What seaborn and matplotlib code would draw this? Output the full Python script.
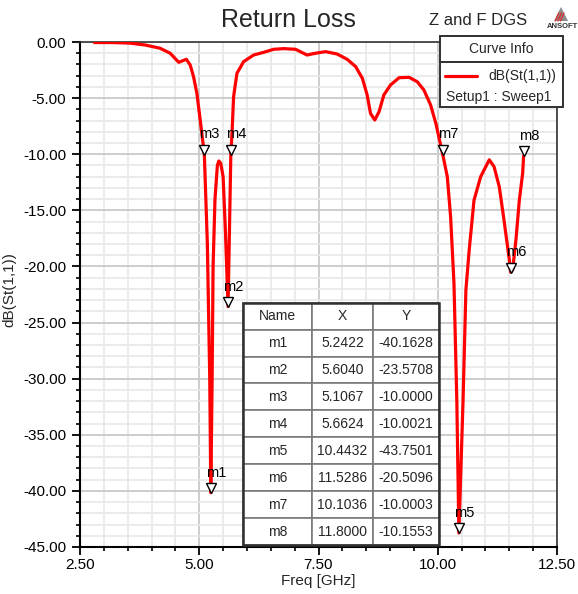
import numpy as np
import pandas as pd
import matplotlib
matplotlib.use("Agg")
import matplotlib.pyplot as plt
import matplotlib.transforms as mtransforms
from matplotlib.patches import Rectangle, Polygon
from matplotlib.ticker import MultipleLocator, FormatStrFormatter
import seaborn as sns

# S11 sweep (GHz, dB)
freq = [2.80, 3.20, 3.55, 3.87, 4.18, 4.39, 4.57, 4.73, 4.81, 4.88, 4.95, 5.02,
        5.1067, 5.17, 5.22, 5.2422, 5.27, 5.29, 5.33, 5.38, 5.41, 5.45, 5.50,
        5.55, 5.604, 5.6624, 5.69, 5.72, 5.79, 5.93, 6.14, 6.35, 6.56, 6.77,
        7.02, 7.16, 7.26, 7.44, 7.65, 7.89, 8.10, 8.28, 8.42, 8.52, 8.59, 8.68,
        8.77, 8.87, 9.01, 9.19, 9.40, 9.57, 9.71, 9.85, 9.96, 10.1036, 10.20,
        10.27, 10.34, 10.40, 10.4432, 10.53, 10.59, 10.66, 10.76, 10.90, 11.08,
        11.18, 11.29, 11.39, 11.50, 11.5286, 11.57, 11.64, 11.71, 11.78, 11.80]
s11 = [-0.05, -0.05, -0.10, -0.27, -0.56, -1.00, -1.81, -1.54, -2.05, -3.09, -4.57, -6.95,
       -10.00, -18.0, -30.0, -40.1628, -30.0, -20.0, -14.0, -11.0, -10.6, -10.8, -12.0,
       -17.0, -23.5708, -10.0021, -7.84, -4.87, -2.79, -1.75, -1.16, -0.92, -0.65, -0.59,
       -0.65, -0.95, -1.16, -1.00, -0.86, -1.07, -1.54, -2.20, -3.24, -4.72, -6.36, -6.95,
       -6.21, -4.72, -3.83, -3.18, -3.15, -3.54, -4.28, -5.61, -7.25, -10.0003, -12.0,
       -15.6, -21.5, -32.0, -43.7501, -32.0, -22.1, -18.5, -14.1, -12.0, -10.5,
       -11.1, -12.9, -15.9, -19.4, -20.5096, -20.3, -17.6, -14.1, -11.7, -10.1553]

# Markers
marker_names = ["m1", "m2", "m3", "m4", "m5", "m6", "m7", "m8"]
marker_x = [5.2422, 5.6040, 5.1067, 5.6624, 10.4432, 11.5286, 10.1036, 11.8000]
marker_y = [-40.1628, -23.5708, -10.0000, -10.0021, -43.7501, -20.5096, -10.0003, -10.1553]

W, H = 578, 594
sns.set_style("white")
plt.rcParams["font.family"] = ["Liberation Sans", "DejaVu Sans"]

fig = plt.figure(figsize=(W / 100, H / 100), dpi=100)


def fx(px):
    return px / W


def fy(py):
    return 1 - py / H


ax = fig.add_axes([fx(80), fy(547), fx(557) - fx(80), fy(42) - fy(547)])

df = pd.DataFrame({"Freq": freq, "S11": s11})
sns.lineplot(data=df, x="Freq", y="S11", ax=ax, color="#ff0000", lw=2.3,
             estimator=None, sort=False, zorder=3)

ax.set_xlim(2.5, 12.5)
ax.set_ylim(-45, 0)
ax.xaxis.set_major_locator(MultipleLocator(2.5))
ax.xaxis.set_minor_locator(MultipleLocator(0.5))
ax.yaxis.set_major_locator(MultipleLocator(5))
ax.yaxis.set_minor_locator(MultipleLocator(1))
ax.xaxis.set_major_formatter(FormatStrFormatter("%.2f"))
ax.yaxis.set_major_formatter(FormatStrFormatter("%.2f"))
ax.grid(True, which="major", color="#c9c9c9", lw=1.3, zorder=0)
ax.grid(True, which="minor", color="#e8e8e8", lw=1.2, zorder=0)
ax.set_axisbelow(True)

ax.tick_params(axis="both", which="major", direction="out", length=6, width=1.3,
               color="black", labelsize=11, labelcolor="black")
ax.tick_params(axis="both", which="minor", direction="out", length=3, width=1.2,
               color="black")
ax.tick_params(axis="y", which="major", pad=4)
ax.tick_params(axis="x", which="major", pad=2)
ax.tick_params(left=True, bottom=True, which="both")

for side in ["left", "bottom"]:
    ax.spines[side].set_color("black")
    ax.spines[side].set_linewidth(1.5)
for side in ["top", "right"]:
    ax.spines[side].set_color("#333333")
    ax.spines[side].set_linewidth(1.2)

ax.set_xlabel("Freq [GHz]", fontsize=11, labelpad=1)
ax.set_ylabel("dB(St(1,1))", fontsize=11)
ax.yaxis.set_label_coords((16 - 80) / (557 - 80), (547 - 290) / (547 - 42))

# marker triangles (tip on the curve) and their names
tri_tf = mtransforms.offset_copy(ax.transData, fig=fig, x=0, y=4.5, units="dots")
ax.plot(marker_x, marker_y, linestyle="none", marker="v", markersize=6.8,
        markerfacecolor="white", markeredgecolor="black", markeredgewidth=1.0,
        transform=tri_tf, zorder=4)
for name, mx, my in zip(marker_names, marker_x, marker_y):
    ax.annotate(name, xy=(mx, my), xytext=(-5, 16), textcoords="offset pixels",
                ha="left", va="baseline", fontsize=10.5, color="black", zorder=4)

# marker table
cell_text = [[n, f"{x:.4f}", f"{y:.4f}"]
             for n, x, y in zip(marker_names, marker_x, marker_y)]
tx0, tx1 = (243 - 80) / 477, (439 - 80) / 477
ty0, ty1 = (547 - 545) / 505, (547 - 302.7) / 505
tbl = ax.table(cellText=cell_text, colLabels=["Name", "X", "Y"],
               cellLoc="center", bbox=[tx0, ty0, tx1 - tx0, ty1 - ty0],
               colWidths=[69, 61, 66])
tbl.auto_set_font_size(False)
tbl.set_fontsize(10)
tbl.set_zorder(6)
for (r, c), cell in tbl.get_celld().items():
    cell.set_edgecolor("#7a7a7a")
    cell.set_linewidth(1.2)
    cell.set_facecolor("white")
ax.add_patch(Rectangle((tx0, ty0), tx1 - tx0, ty1 - ty0, transform=ax.transAxes,
                       fill=False, edgecolor="#303030", lw=1.8, zorder=7,
                       clip_on=False))


# curve info box
def fig_rect(x0, y0, x1, y1, **kw):
    fig.patches.append(Rectangle((fx(x0), fy(y1)), fx(x1) - fx(x0), fy(y0) - fy(y1),
                                 transform=fig.transFigure, **kw))


fig_rect(440, 36, 563, 62, facecolor="white", edgecolor="#303030", lw=1.4, zorder=8)
fig_rect(440, 62, 563, 107, facecolor="white", edgecolor="#303030", lw=1.4, zorder=8)
fig.text(fx(501.5), fy(49), "Curve Info", fontsize=10, ha="center", va="center", zorder=9)
fig.lines.append(plt.Line2D([fx(445), fx(477)], [fy(76), fy(76)], color="#ff0000",
                            lw=2.3, transform=fig.transFigure, zorder=9))
fig.text(fx(556), fy(76), "dB(St(1,1))", fontsize=10, ha="right", va="center", zorder=9)
fig.text(fx(446), fy(97), "Setup1 : Sweep1", fontsize=10, ha="left", va="center", zorder=9)

# titles
fig.text(fx(288.5), fy(27), "Return Loss", fontsize=18, ha="center", va="baseline")
fig.text(fx(429), fy(25), "Z and F DGS", fontsize=12, ha="left", va="baseline")

# small logo
fig.patches.append(Polygon([(fx(554), fy(21)), (fx(561), fy(7)), (fx(568), fy(21))],
                           closed=True, transform=fig.transFigure,
                           facecolor="#8c8c8c", edgecolor="none"))
for k in range(3):
    xa = 557.5 + k * 2.6
    fig.lines.append(plt.Line2D([fx(xa - 2.2), fx(xa + 1.2)], [fy(21), fy(13)],
                                color="#e0282e", lw=0.9, transform=fig.transFigure))
fig.text(fx(562), fy(26), "ANSOFT", fontsize=5.5, ha="center", va="center",
         color="#333333", fontweight="bold")

fig.savefig("out.png", dpi=100)
